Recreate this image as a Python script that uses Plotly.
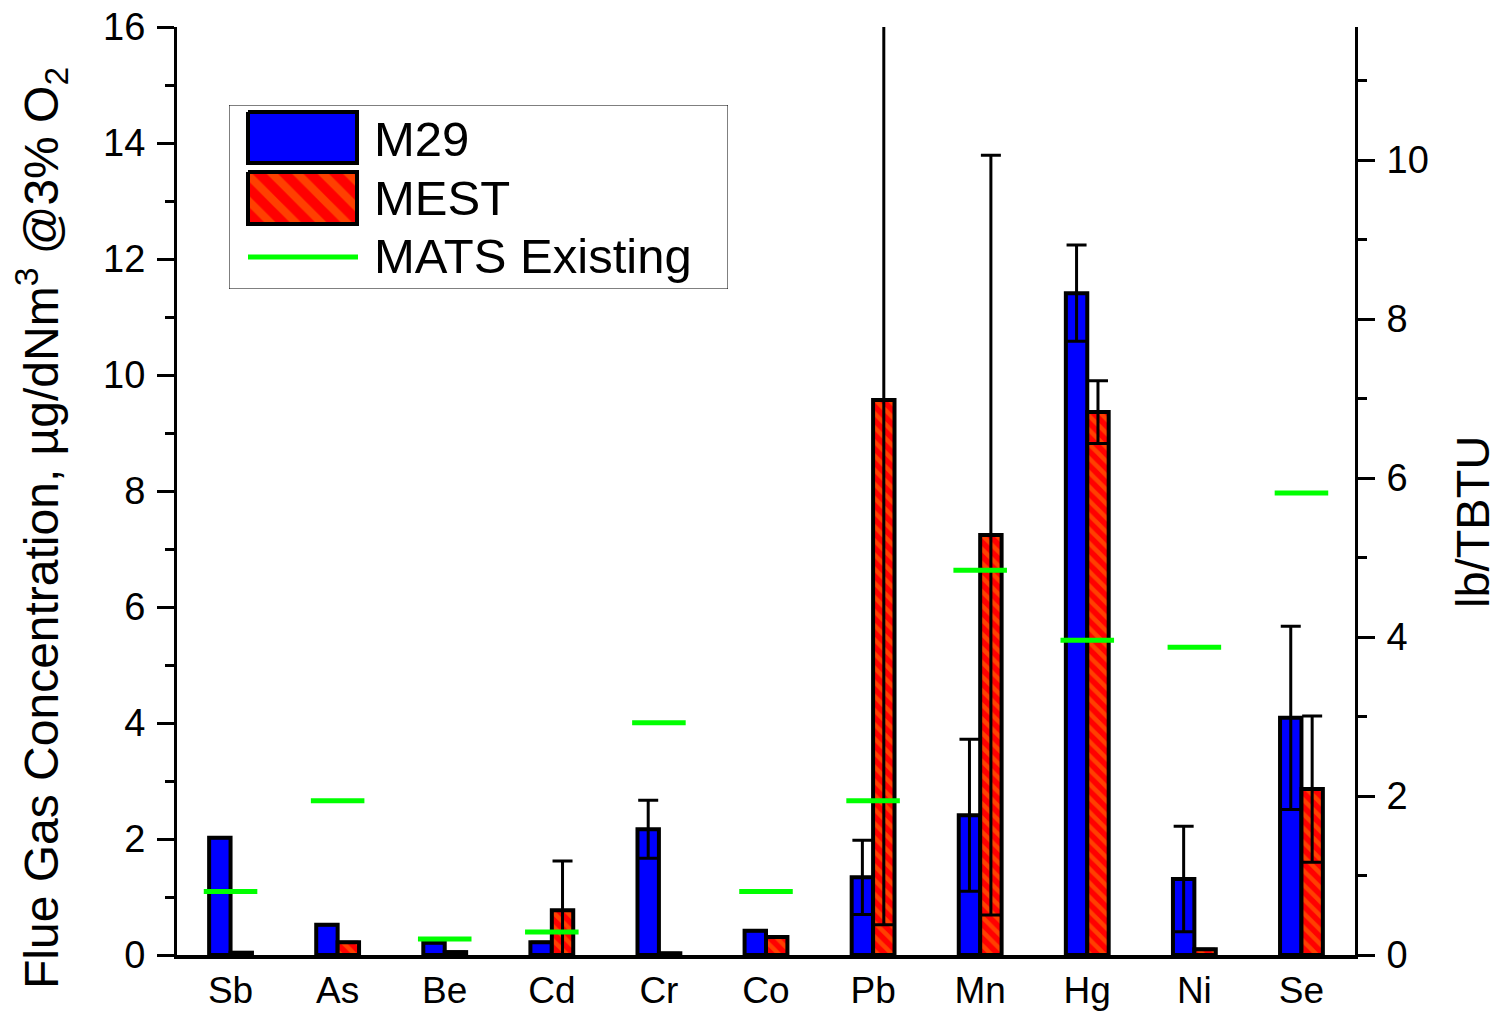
import plotly.graph_objects as go

# ---------------- data ----------------
elements = ["Sb", "As", "Be", "Cd", "Cr", "Co", "Pb", "Mn", "Hg", "Ni", "Se"]
# flue gas concentration, ug/dNm3 @3% O2 (left axis)
m29 = [2.02, 0.52, 0.21, 0.22, 2.17, 0.42, 1.34, 2.41, 11.41, 1.31, 4.09]
m29_err = [None, None, None, None, 0.50, None, 0.64, 1.31, 0.83, 0.91, 1.58]
mest = [0.04, 0.22, 0.05, 0.77, 0.03, 0.31, 9.57, 7.24, 9.36, 0.10, 2.86]
mest_err = [None, None, None, 0.85, None, None, 9.05, 6.55, 0.54, None, 1.26]
# MATS existing-unit limits, lb/TBTU (right axis)
mats_existing = [0.80, 1.94, 0.20, 0.29, 2.92, 0.80, 1.94, 4.84, 3.96, 3.87, 5.81]

left_ticks = [0, 2, 4, 6, 8, 10, 12, 14, 16]
right_ticks = [0, 2, 4, 6, 8, 10]
left_max = 16
right_max = 11.673

FONT = "Liberation Sans, Arial, sans-serif"
BLUE = "#0000FF"
RED = "#FF0000"
ORANGE = "#FF8000"
GREEN = "#00FF00"

idx = list(range(len(elements)))

fig = go.Figure()

fig.add_trace(go.Bar(
    x=idx, y=m29, name="M29", offsetgroup="a", width=0.2,
    marker=dict(color=BLUE, line=dict(color="black", width=4)),
    error_y=dict(type="data", array=m29_err, visible=True,
                 color="black", thickness=3, width=10),
    showlegend=False,
))
fig.add_trace(go.Bar(
    x=idx, y=mest, name="MEST", offsetgroup="b", width=0.2,
    marker=dict(color=RED, line=dict(color="black", width=4),
                pattern=dict(shape="\\", bgcolor=RED, fgcolor=ORANGE,
                             size=10, solidity=0.45)),
    error_y=dict(type="data", array=mest_err, visible=True,
                 color="black", thickness=3, width=10),
    showlegend=False,
))

# MATS Existing horizontal segments (right axis, lb/TBTU)
lx, ly = [], []
for i, v in zip(idx, mats_existing):
    lx += [i - 0.25, i + 0.25, None]
    ly += [v, v, None]
fig.add_trace(go.Scatter(
    x=lx, y=ly, yaxis="y2", mode="lines", name="MATS Existing",
    line=dict(color=GREEN, width=5), showlegend=False,
))

# -------- custom legend (drawn on a helper axis pair in pixel-like units) --------
fig.add_trace(go.Scatter(
    x=[248, 357, 357, 248, 248], y=[112, 112, 163, 163, 112],
    xaxis="x3", yaxis="y3", mode="lines", fill="toself",
    fillcolor=BLUE, line=dict(color="black", width=4),
    showlegend=False, hoverinfo="skip",
))
fig.add_trace(go.Scatter(
    x=[248, 357, 357, 248, 248], y=[172, 172, 224, 224, 172],
    xaxis="x3", yaxis="y3", mode="lines", fill="toself",
    fillcolor=RED,
    fillpattern=dict(shape="\\", bgcolor=RED, fgcolor=ORANGE, size=18, solidity=0.45),
    line=dict(color="black", width=4),
    showlegend=False, hoverinfo="skip",
))
fig.add_trace(go.Scatter(
    x=[248, 358], y=[257, 257], xaxis="x3", yaxis="y3", mode="lines",
    line=dict(color=GREEN, width=5), showlegend=False, hoverinfo="skip",
))

legend_labels = ["M29", "MEST", "MATS Existing"]
legend_y = [138.5, 197.5, 256]
annotations = []
for t, yy in zip(legend_labels, legend_y):
    annotations.append(dict(
        text=t, x=372, y=yy, xref="x3", yref="y3", xanchor="left", yanchor="middle",
        showarrow=False, font=dict(family=FONT, size=49, color="black"),
    ))

# axis titles as rotated annotations
annotations.append(dict(
    text="Flue Gas Concentration, µg/dNm<sup>3</sup> @3% O<sub>2</sub>",
    textangle=-90, x=(41 - 177) / 1178, y=(955 - 528) / 928,
    xref="paper", yref="paper", xanchor="center", yanchor="middle",
    showarrow=False, font=dict(family=FONT, size=48, color="black"),
))
annotations.append(dict(
    text="lb/TBTU",
    textangle=-90, x=(1472 - 177) / 1178, y=(955 - 522) / 928,
    xref="paper", yref="paper", xanchor="center", yanchor="middle",
    showarrow=False, font=dict(family=FONT, size=47, color="black"),
))

fig.update_layout(
    width=1501, height=1015,
    margin=dict(l=177, r=146, t=27, b=60, autoexpand=False),
    paper_bgcolor="white", plot_bgcolor="white",
    barmode="group", bargap=0.6, bargroupgap=0,
    showlegend=False,
    font=dict(family=FONT, size=37, color="black"),
    annotations=annotations,
    shapes=[dict(type="rect", xref="x3", yref="y3", x0=229, x1=728, y0=105, y1=289,
                 line=dict(color="black", width=1), fillcolor="rgba(0,0,0,0)")],
    xaxis=dict(
        range=[-0.5, 10.5], tickmode="array", tickvals=idx, ticktext=elements,
        showline=True, linecolor="black", linewidth=4, ticks="",
        showgrid=False, zeroline=False, tickfont=dict(size=37), automargin=False,
    ),
    yaxis=dict(
        range=[0, left_max], tickmode="array", tickvals=left_ticks,
        showline=True, linecolor="black", linewidth=3,
        ticks="outside", ticklen=17, tickwidth=3, tickcolor="black",
        minor=dict(ticks="outside", ticklen=9, tickwidth=3, tickcolor="black", dtick=1, showgrid=False),
        showgrid=False, zeroline=False, tickfont=dict(size=38), automargin=False,
        ticklabelstandoff=4,
    ),
    yaxis2=dict(
        overlaying="y", side="right", anchor="x",
        range=[0, right_max], tickmode="array", tickvals=right_ticks,
        showline=True, linecolor="black", linewidth=3,
        ticks="outside", ticklen=17, tickwidth=3, tickcolor="black",
        minor=dict(ticks="outside", ticklen=9, tickwidth=3, tickcolor="black", dtick=1, showgrid=False),
        showgrid=False, zeroline=False, tickfont=dict(size=38), automargin=False,
        ticklabelstandoff=4,
    ),
    xaxis3=dict(domain=[(229 - 177) / 1178, (728 - 177) / 1178], range=[229, 728],
                anchor="y3", visible=False, fixedrange=True, automargin=False),
    yaxis3=dict(domain=[(955 - 289) / 928, (955 - 105) / 928], range=[289, 105],
                anchor="x3", visible=False, fixedrange=True, automargin=False),
)

fig.write_html(
    "out.html",
    config={"displayModeBar": False},
    post_script="document.body.style.margin='0px';document.body.style.padding='0px';",
)
